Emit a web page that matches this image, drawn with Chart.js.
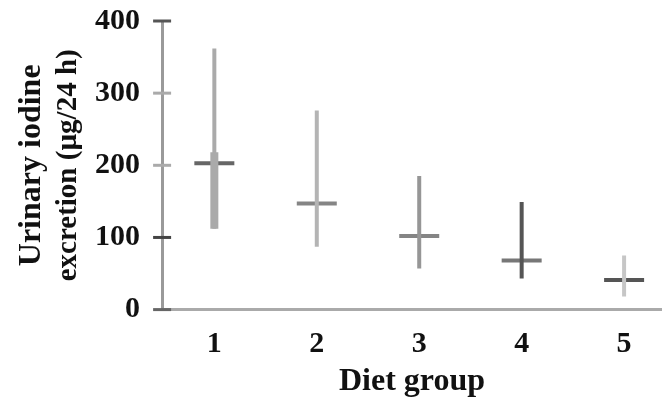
<!DOCTYPE html>
<html>
<head>
<meta charset="utf-8">
<script src="https://cdn.jsdelivr.net/npm/chart.js@4"></script>
<style>
  html, body { margin: 0; padding: 0; background: #fff; }
  #wrap { width: 662px; height: 401px; }
</style>
</head>
<body>
<div id="wrap"><canvas id="myChart"></canvas></div>
<script>
// datos
const groups = [1, 2, 3, 4, 5];
const groupLabels = ["1", "2", "3", "4", "5"];
const medians = [203, 147, 102, 68, 41];
const lows = [112, 87, 57, 43, 18];
const highs = [362, 276, 185, 149, 75];
// tramo grueso del grupo 1
const thickLow = [112];
const thickHigh = [218];
const yTicks = [0, 100, 200, 300, 400];

const rangeColors = ["#aaaaaa", "#b4b4b4", "#969696", "#555555", "#c6c6c6"];
const medianColors = ["#666666", "#858585", "#858585", "#777777", "#555555"];
const tickColors = ["#666666", "#444444", "#aaaaaa", "#aaaaaa", "#555555"];

const fontFamily = "'Liberation Serif', 'Times New Roman', serif";
const font = { family: fontFamily, size: 30, weight: "bold", lineHeight: 1.2 };

// marcas del eje y a los dos lados de la linea
const yTickMarks = {
  id: "yTickMarks",
  afterDraw(chart) {
    const y = chart.scales.y;
    const ctx = chart.ctx;
    ctx.save();
    ctx.lineWidth = 3;
    y.ticks.forEach((t, i) => {
      const py = y.getPixelForValue(t.value);
      ctx.strokeStyle = tickColors[i];
      ctx.beginPath();
      ctx.moveTo(y.right - 9, py);
      ctx.lineTo(y.right + 9, py);
      ctx.stroke();
    });
    ctx.restore();
  },
};

const datasets = [];
groups.forEach((g, i) => {
  datasets.push({
    data: [{ x: g, y: lows[i] }, { x: g, y: highs[i] }],
    showLine: true,
    borderColor: rangeColors[i],
    borderWidth: 4,
    pointRadius: 0,
  });
});
datasets.push({
  data: [{ x: groups[0], y: thickLow[0] }, { x: groups[0], y: thickHigh[0] }],
  showLine: true,
  borderColor: rangeColors[0],
  borderWidth: 8,
  pointRadius: 0,
});
datasets.push({
  data: groups.map((g, i) => ({ x: g, y: medians[i] })),
  showLine: false,
  pointStyle: "line",
  pointRadius: 20,
  pointBorderWidth: 4,
  pointBorderColor: medianColors,
  borderColor: medianColors,
});

new Chart(document.getElementById("myChart"), {
  type: "scatter",
  data: { datasets: datasets },
  plugins: [yTickMarks],
  options: {
    responsive: true,
    maintainAspectRatio: false,
    animation: false,
    layout: { autoPadding: false, padding: { left: 0, top: 21, right: 0, bottom: 0 } },
    plugins: { legend: { display: false }, tooltip: { enabled: false } },
    scales: {
      x: {
        type: "linear",
        min: 0.49,
        max: 5.37,
        afterBuildTicks: (scale) => {
          scale.ticks = groups.map((v) => ({ value: v }));
        },
        ticks: {
          color: "#111",
          font: font,
          padding: 0,
          maxRotation: 0,
          callback: (v) => groupLabels[groups.indexOf(v)],
        },
        grid: {
          drawOnChartArea: false,
          drawTicks: true,
          tickLength: 17,
          tickColor: "rgba(0,0,0,0)",
        },
        border: { color: "#aaaaaa", width: 3 },
        title: {
          display: true,
          text: "Diet group",
          color: "#111",
          font: { family: fontFamily, size: 32, weight: "bold", lineHeight: 1.2 },
          padding: { top: 0, bottom: 0 },
        },
      },
      // solo para la primera linea del titulo
      y1: {
        position: "left",
        weight: 1,
        min: 0,
        max: 400,
        ticks: { display: false },
        grid: { display: false, drawTicks: false },
        border: { display: false },
        title: {
          display: true,
          text: "Urinary iodine",
          color: "#111",
          font: { family: fontFamily, size: 32, weight: "bold", lineHeight: 1.1 },
          padding: { top: 14, bottom: 0 },
        },
      },
      y: {
        position: "left",
        weight: 0,
        min: 0,
        max: 400,
        afterBuildTicks: (scale) => {
          scale.ticks = yTicks.map((v) => ({ value: v }));
        },
        ticks: { color: "#111", font: font, padding: 0 },
        grid: {
          drawOnChartArea: false,
          drawTicks: true,
          tickLength: 22,
          tickColor: "rgba(0,0,0,0)",
        },
        border: { color: "#9a9a9a", width: 3 },
        title: {
          display: true,
          text: "excretion (\u00b5g/24 h)",
          color: "#111",
          font: { family: fontFamily, size: 29, weight: "bold", lineHeight: 1.1 },
          padding: { top: 3, bottom: 11 },
        },
      },
    },
  },
});
</script>
</body>
</html>
